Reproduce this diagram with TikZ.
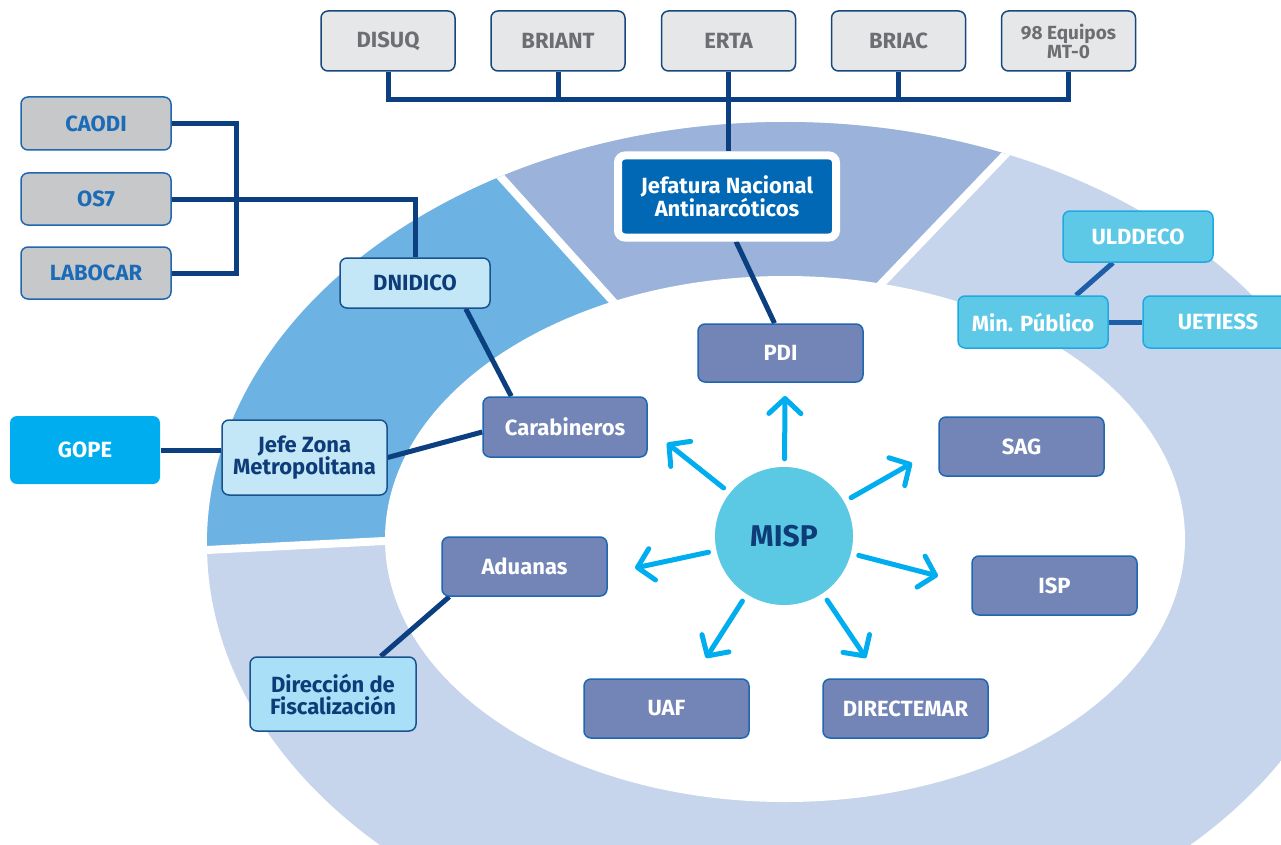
\documentclass[tikz,border=0pt]{standalone}
\usepackage{fontspec}
\setmainfont{Fira Sans}
\usetikzlibrary{arrows.meta,shapes.geometric,backgrounds}
\definecolor{ringA}{HTML}{6CB3E4}
\definecolor{ringB}{HTML}{9BB2DB}
\definecolor{ringC}{HTML}{C6D5EC}
\definecolor{navy}{HTML}{0B3F80}
\definecolor{navytxt}{HTML}{0D3C78}
\definecolor{purp}{HTML}{7285B6}
\definecolor{bord}{HTML}{1F67B1}
\definecolor{grayA}{HTML}{E6E7E8}
\definecolor{grayB}{HTML}{C7C8CA}
\definecolor{graytxt}{HTML}{6D6E71}
\definecolor{bluetxt}{HTML}{1B6BB6}
\definecolor{jefblue}{HTML}{0068B4}
\definecolor{mispc}{HTML}{5CC9E4}
\definecolor{cyanbox}{HTML}{5DC9E6}
\definecolor{cyanbord}{HTML}{1FA9E1}
\definecolor{gopec}{HTML}{00AEEF}
\definecolor{lightA}{HTML}{C3E7F7}
\definecolor{lightB}{HTML}{AADFF8}
\definecolor{arrc}{HTML}{00AEEF}
\definecolor{mpline}{HTML}{1C5EA8}
\tikzset{
  box/.style={rectangle, rounded corners=7pt, inner sep=0pt, align=center,
    font=\fontsize{22}{22}\selectfont\bfseries, line width=1.5pt},
  topbox/.style={box, fill=grayA, draw=bord!70!black, text=graytxt, minimum width=134pt, minimum height=60pt},
  leftbox/.style={box, fill=grayB, draw=bord, text=bluetxt, minimum width=150pt, minimum height=52pt},
  orgbox/.style={box, fill=purp, draw=bord, text=white, minimum width=165pt, minimum height=59pt},
  lightbox/.style={box, draw=bord!80!black, text=navytxt},
  cyanb/.style={box, fill=cyanbox, draw=cyanbord, text=white, minimum width=150pt, minimum height=52pt},
  conn/.style={draw=navy, line width=5pt},
  arr/.style={draw=arrc, line width=5pt, line cap=round,
    -{Straight Barb[length=15pt,width=32pt,line cap=round,line join=round]}, shorten <=8pt},
  gap/.style={draw=white, line width=8pt}
}
\begin{document}
\begin{tikzpicture}[x=1pt,y=-1pt]
\useasboundingbox (0,0) rectangle (1281,845);
\begin{pgfonlayer}{background}
\fill[white] (0,0) rectangle (1281,845);
\begin{scope}
  \clip (785,544) ellipse [x radius=578pt, y radius=422pt];
  \fill[ringC] (-10,-10) rectangle (1400,1000);
  \fill[ringA] (430,98.5) -- (682,378) -- (700,525) -- (-50,563) -- (-50,98.5) -- cycle;
  \fill[ringB] (430,98.5) -- (682,378) -- (793,376) -- (1046,112) -- cycle;
  \draw[gap] (430,98.5) -- (682,378);
  \draw[gap] (1046,112) -- (793,376);
  \draw[gap] (-50,563) -- (700,525);
\end{scope}
\fill[white] (785,539) ellipse [x radius=400pt, y radius=263pt];
\end{pgfonlayer}

% top boxes
\node[topbox] (disuq) at (388,41) {DISUQ};
\node[topbox] (briant) at (558,41) {BRIANT};
\node[topbox] (erta) at (728.5,41) {ERTA};
\node[topbox] (briac) at (898.5,41) {BRIAC};
\node[topbox, font=\fontsize{19}{19}\selectfont\bfseries] (eq98) at (1068.5,41) {98 Equipos\\MT-0};
\coordinate (busy) at (0,100);

% left boxes
\node[leftbox, minimum height=53pt] (caodi) at (96,123.5) {CAODI};
\node[leftbox] (os7) at (96,199) {OS7};
\node[leftbox] (labocar) at (96,273) {LABOCAR};

% other nodes
\node[lightbox, fill=lightA, minimum width=150pt, minimum height=50pt] (dnidico) at (415,283) {DNIDICO};
\node[box, fill=jefblue, draw=white, line width=8pt, text=white, minimum width=218pt, minimum height=82pt] (jef) at (727,196.5) {Jefatura Nacional\\Antinarcóticos};
\node[orgbox, minimum width=164pt, minimum height=60pt] (carab) at (565,427) {Carabineros};
\node[lightbox, fill=lightA, minimum width=165pt, minimum height=75pt] (jefe) at (304.5,457.5) {Jefe Zona\\Metropolitana};
\node[box, fill=gopec, text=white, minimum width=150pt, minimum height=68pt] (gope) at (85,450) {GOPE};
\node[orgbox, minimum height=58pt] (pdi) at (780.5,353) {PDI};
\node[orgbox] (sag) at (1021.5,446.5) {SAG};
\node[orgbox] (isp) at (1054.5,585.5) {ISP};
\node[orgbox] (aduanas) at (524.5,566.5) {Aduanas};
\node[lightbox, fill=lightB, minimum width=166pt, minimum height=74pt] (direccion) at (333,694) {Dirección de\\Fiscalización};
\node[orgbox] (uaf) at (666.5,708.5) {UAF};
\node[orgbox] (directemar) at (905.5,708.5) {DIRECTEMAR};
\node[circle, fill=mispc, minimum size=138pt, inner sep=0pt, text=navytxt, font=\fontsize{30}{30}\selectfont\bfseries] (misp) at (784,536) {MISP};
\node[cyanb, minimum height=51pt] (ulddeco) at (1138,236.5) {ULDDECO};
\node[cyanb] (minp) at (1033,322) {Min. Público};
\node[cyanb] (uetiess) at (1218,322) {UETIESS};

% connectors (behind the boxes, above the ring)
\begin{pgfonlayer}{background}
\draw[conn] (disuq.south) |- (busy -| eq98.south) -- (eq98.south);
\draw[conn] (briant.south) -- (briant.south |- busy);
\draw[conn] (briac.south) -- (briac.south |- busy);
\draw[conn] (erta.south) -- (erta.south |- jef.north);
\draw[conn] (caodi.east) -- ++(65,0) |- (labocar.east);
\draw[conn] (os7.east) -| (dnidico.north);
\draw[conn] ([xshift=-25pt]dnidico.south east) -- ([xshift=29pt]carab.north west);
\draw[conn] (jefe.east) -- ([yshift=-5pt]carab.west);
\draw[conn] (gope.east) -- (gope.east -| jefe.west);
\draw[conn] ([xshift=9pt]jef.south) -- ([xshift=-6pt]pdi.north);
\draw[conn] ([xshift=8pt]aduanas.south west) -- ([xshift=-36pt]direccion.north east);
\draw[draw=mpline, line width=5pt] ([xshift=-25pt]ulddeco.south) -- ([xshift=43pt]minp.north);
\draw[draw=mpline, line width=5pt] (minp.east) -- (uetiess.west);
\end{pgfonlayer}

% arrows
\coordinate (t1) at (785,396);
\coordinate (t2) at (667,443);
\coordinate (t3) at (912,463);
\coordinate (t4) at (635,568);
\coordinate (t5) at (938,576);
\coordinate (t6) at (706,658);
\coordinate (t7) at (866,658);
\foreach \t in {t1,t2,t3,t4,t5,t6,t7} \draw[arr] (misp) -- (\t);
\end{tikzpicture}
\end{document}
